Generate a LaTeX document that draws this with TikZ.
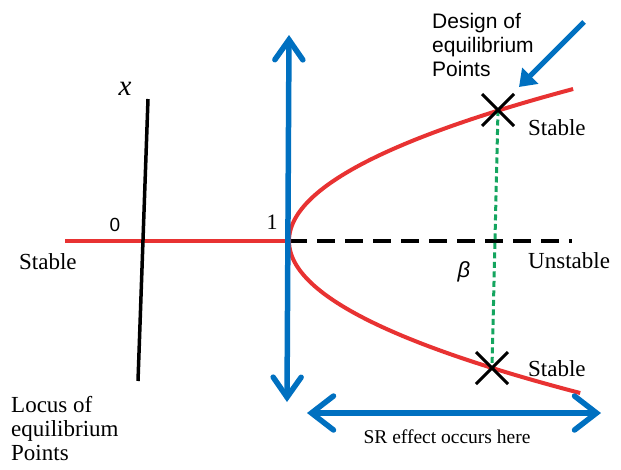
\documentclass[tikz,border=0pt]{standalone}
\usepackage{fontspec}
\setmainfont{Liberation Serif}
\newfontfamily\arialf{Liberation Sans}
\usetikzlibrary{arrows.meta,calc}
\definecolor{cred}{RGB}{232,50,50}
\definecolor{cblue}{RGB}{0,112,192}
\definecolor{cgreen}{RGB}{20,165,95}
\tikzset{
  redline/.style={draw=cred,line width=4pt},
  blackline/.style={draw=black,line width=3.5pt},
  blueline/.style={draw=cblue,line width=5.5pt,line cap=round},
  lbl/.style={font=\fontsize{23}{24}\selectfont,inner sep=0pt},
  slbl/.style={font=\arialf\fontsize{21}{24}\selectfont,inner sep=0pt,align=left},
  xmark/.style={draw=black,line width=3pt}
}
\begin{document}
\begin{tikzpicture}[x=1pt,y=-1pt]
\useasboundingbox (0,0) rectangle (621,469);
% horizontal stable line
\coordinate (hl) at (65,241);
\coordinate (bif) at (289,241);
\coordinate (hr) at (572,241);
\draw[redline] (hl) -- (bif);
\draw[blackline,dash pattern=on 18pt off 10pt] (bif) -- (hr);
% x axis
\coordinate (xt) at (148,99);
\coordinate (xb) at (138,381);
\draw[blackline] (xt) -- (xb);
% parabola
\draw[redline] plot[domain=0:152,samples=80,smooth] ({289+0.0123*\x*\x},{241-\x});
\draw[redline] plot[domain=0:152,samples=80,smooth] ({289+0.0126*\x*\x},{241+\x});
% equilibrium points
\coordinate (pu) at (498,110);
\coordinate (pl) at (492,368);
\draw[cgreen,line width=3pt,dash pattern=on 6pt off 3.5pt] (pu) -- (pl);
\foreach \p in {pu,pl}{
  \draw[xmark] ($(\p)+(-16,-16)$) -- ($(\p)+(16,16)$);
  \draw[xmark] ($(\p)+(-16,16)$) -- ($(\p)+(16,-16)$);
}
% blue vertical arrow
\coordinate (vt) at (289,35);
\coordinate (vb) at (287,402);
\draw[blueline,{Straight Barb[length=20pt,width=28pt,line cap=round]}-{Straight Barb[length=20pt,width=28pt,line cap=round]}] (vb) -- (vt);
% horizontal arrow
\coordinate (al) at (307,413);
\coordinate (ar) at (601,413);
\draw[blueline,{Straight Barb[length=22pt,width=34pt,line cap=round]}-{Straight Barb[length=22pt,width=34pt,line cap=round]}] (al) -- (ar);
% diagonal arrow
\coordinate (dt) at (584,22);
\coordinate (dh) at (519,87);
\draw[cblue,line width=5pt,-{Triangle[length=16pt,width=22pt]}] (dt) -- (dh);
% labels
\node[lbl,font=\fontsize{29}{30}\selectfont\itshape] (xl) at (125,89) {x};
\node[lbl,font=\arialf\fontsize{19}{20}\selectfont] (n0) at (115,225) {0};
\node[lbl,font=\fontsize{22}{24}\selectfont] (n1) at (272,222) {1};
\node[lbl,font=\arialf\itshape\fontsize{22}{24}\selectfont] (beta) at (464,272) {β};
\node[lbl,anchor=base west] (sl) at (19,269) {Stable};
\node[lbl,anchor=base west] (su) at (528,135) {Stable};
\node[lbl,anchor=base west] (sd) at (528,376) {Stable};
\node[lbl,anchor=base west] (us) at (528,268) {Unstable};
\node[slbl,anchor=base west] (design) at (432,76) {Design of\\equilibrium\\Points};
\node[lbl,anchor=base west,align=left] (locus) at (11,460) {Locus of\\equilibrium\\Points};
\node[lbl,font=\fontsize{19.5}{20}\selectfont] (sr) at (447,437) {SR effect occurs here};
\end{tikzpicture}
\end{document}
